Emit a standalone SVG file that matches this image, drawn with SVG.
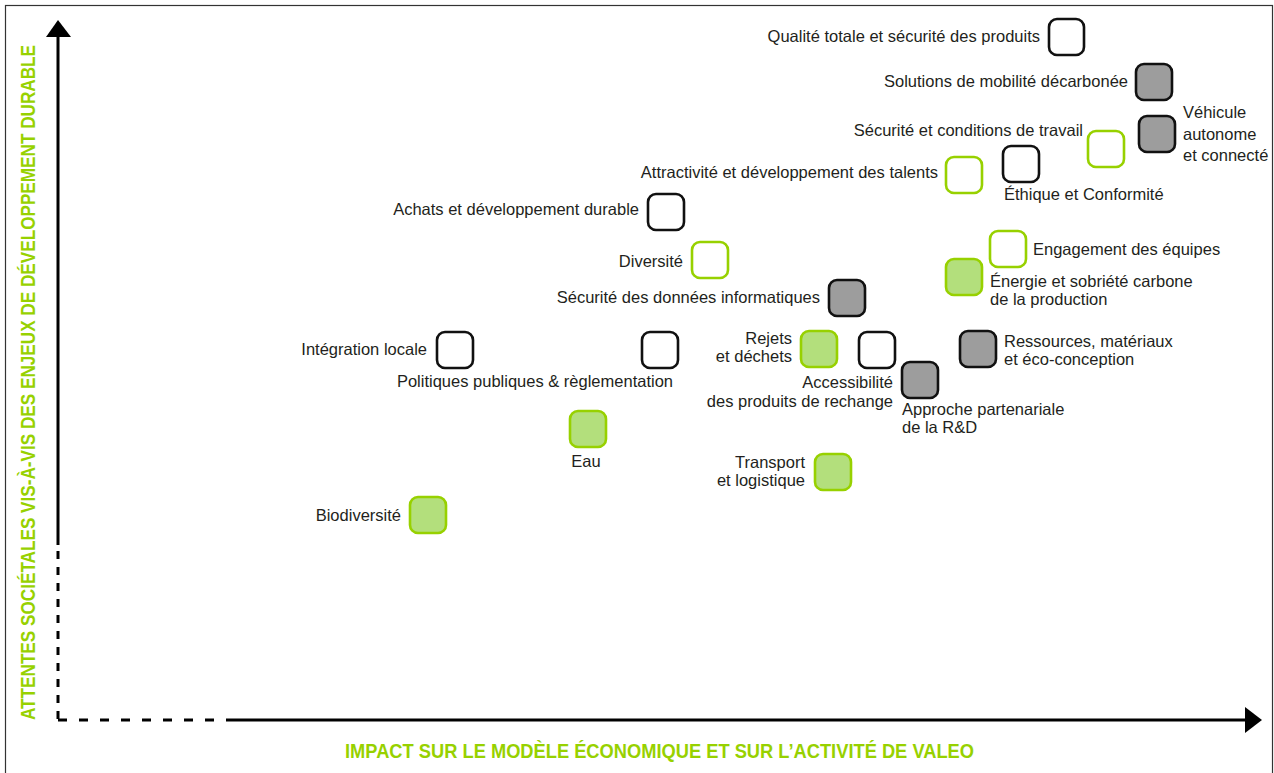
<svg xmlns="http://www.w3.org/2000/svg" width="1274" height="773" viewBox="0 0 1274 773">
<defs>
<style>
.t{font-family:"Liberation Sans",Arial,sans-serif;font-size:16.5px;fill:#231f20}
.e{text-anchor:end}
.m{text-anchor:middle}
.ax{font-family:"Liberation Sans",Arial,sans-serif;font-size:17px;font-weight:bold;fill:#97d100}
.b{stroke-width:2.6}
.k{fill:#ffffff;stroke:#111111}
.g{fill:#9d9d9d;stroke:#111111}
.go{fill:#ffffff;stroke:#97d100}
.gf{fill:#b3df7c;stroke:#97d100}
</style>
</defs>
<rect x="0" y="0" width="1274" height="773" fill="#ffffff"/>
<rect x="5.5" y="5.5" width="1267" height="775" fill="none" stroke="#333333" stroke-width="1.2"/>
<g id="axes" stroke="#000000" stroke-width="3" fill="none">
<line x1="58" y1="36" x2="58" y2="545"/>
<line x1="58" y1="551" x2="58" y2="720" stroke-dasharray="8 8"/>
<line x1="58" y1="720" x2="232" y2="720" stroke-dasharray="9 12"/>
<line x1="232" y1="720" x2="1246" y2="720"/>
<polygon points="58,20 46,37 71,37" fill="#000000" stroke="none"/>
<polygon points="1262,720 1245,707 1245,733" fill="#000000" stroke="none"/>
</g>
<g id="axis-labels">
<text class="ax m" transform="translate(35,382.5) rotate(-90) scale(1,1.18)" x="0" y="0" textLength="675" lengthAdjust="spacingAndGlyphs">ATTENTES SOCIÉTALES VIS-À-VIS DES ENJEUX DE DÉVELOPPEMENT DURABLE</text>
<text class="ax" transform="translate(345,758) scale(1,1.18)" x="0" y="0" textLength="629" lengthAdjust="spacingAndGlyphs">IMPACT SUR LE MODÈLE ÉCONOMIQUE ET SUR L’ACTIVITÉ DE VALEO</text>
</g>
<g id="connectors"></g>
<g id="n-qualite"><rect class="b k" x="1049" y="19" width="35" height="36" rx="8"/><text class="t e" x="1040" y="42">Qualité totale et sécurité des produits</text></g>
<g id="n-mobilite"><rect class="b g" x="1136" y="64" width="36" height="36" rx="8"/><text class="t e" x="1128" y="87">Solutions de mobilité décarbonée</text></g>
<g id="n-vehicule"><rect class="b g" x="1139" y="116" width="36" height="36" rx="8"/><text class="t" x="1183" y="118">Véhicule</text><text class="t" x="1183" y="140">autonome</text><text class="t" x="1183" y="161">et connecté</text></g>
<g id="n-securite-travail"><rect class="b go" x="1088" y="131" width="36" height="36" rx="8"/><text class="t e" x="1083" y="136">Sécurité et conditions de travail</text></g>
<g id="n-ethique"><rect class="b k" x="1003" y="146" width="36" height="36" rx="8"/><text class="t" x="1004" y="200">Éthique et Conformité</text></g>
<g id="n-attractivite"><rect class="b go" x="946" y="157" width="36" height="36" rx="8"/><text class="t e" x="938" y="178">Attractivité et développement des talents</text></g>
<g id="n-engagement"><rect class="b go" x="990" y="231" width="36" height="36" rx="8"/><text class="t" x="1033" y="255">Engagement des équipes</text></g>
<g id="n-energie"><rect class="b gf" x="946" y="259" width="36" height="36" rx="8"/><text class="t" x="990" y="287">Énergie et sobriété carbone</text><text class="t" x="990" y="305">de la production</text></g>
<g id="n-achats"><rect class="b k" x="648" y="194" width="36" height="36" rx="8"/><text class="t e" x="639" y="215">Achats et développement durable</text></g>
<g id="n-diversite"><rect class="b go" x="692" y="242" width="36" height="36" rx="8"/><text class="t e" x="683" y="267">Diversité</text></g>
<g id="n-donnees"><rect class="b g" x="829" y="280" width="36" height="36" rx="8"/><text class="t e" x="820" y="303">Sécurité des données informatiques</text></g>
<g id="n-integration"><rect class="b k" x="437" y="332" width="36" height="36" rx="8"/><text class="t e" x="427" y="355">Intégration locale</text></g>
<g id="n-politiques"><rect class="b k" x="642" y="332" width="36" height="36" rx="8"/><text class="t e" x="673" y="387">Politiques publiques &amp; règlementation</text></g>
<g id="n-rejets"><rect class="b gf" x="801" y="331" width="36" height="36" rx="8"/><text class="t e" x="792" y="344">Rejets</text><text class="t e" x="792" y="362">et déchets</text></g>
<g id="n-accessibilite"><rect class="b k" x="859" y="332" width="36" height="36" rx="8"/><text class="t e" x="893" y="388">Accessibilité</text><text class="t e" x="893" y="407">des produits de rechange</text></g>
<g id="n-approche"><rect class="b g" x="902" y="362" width="36" height="36" rx="8"/><text class="t" x="902" y="415">Approche partenariale</text><text class="t" x="902" y="433">de la R&amp;D</text></g>
<g id="n-ressources"><rect class="b g" x="960" y="331" width="36" height="36" rx="8"/><text class="t" x="1004" y="347">Ressources, matériaux</text><text class="t" x="1004" y="365">et éco-conception</text></g>
<g id="n-eau"><rect class="b gf" x="570" y="411" width="36" height="36" rx="8"/><text class="t m" x="586" y="467">Eau</text></g>
<g id="n-transport"><rect class="b gf" x="815" y="454" width="36" height="36" rx="8"/><text class="t e" x="805" y="468">Transport</text><text class="t e" x="805" y="486">et logistique</text></g>
<g id="n-biodiversite"><rect class="b gf" x="410" y="497" width="36" height="36" rx="8"/><text class="t e" x="401" y="521">Biodiversité</text></g>
</svg>
